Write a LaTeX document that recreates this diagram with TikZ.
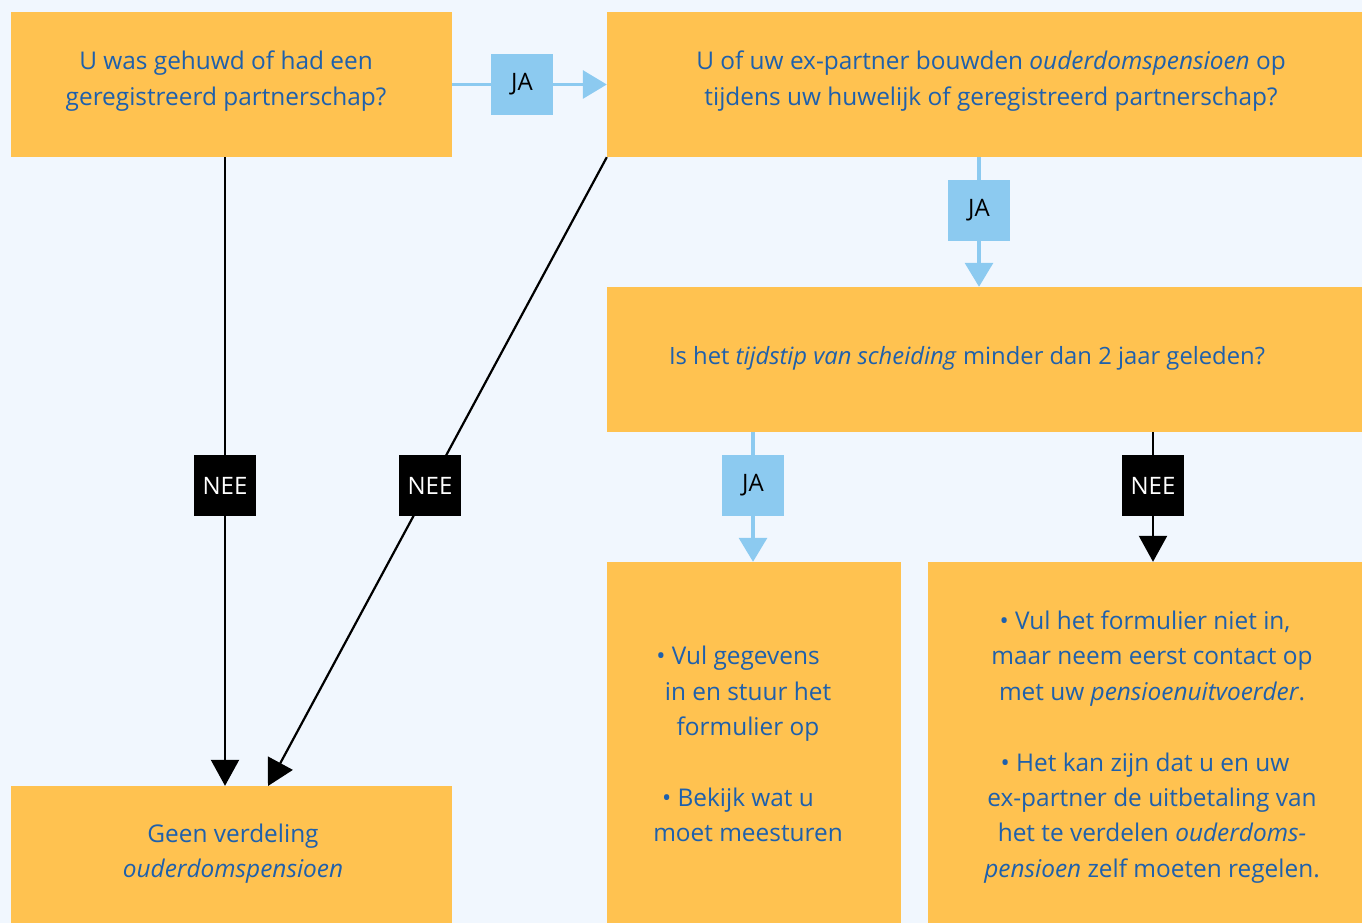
\documentclass[tikz,border=0pt]{standalone}
\usepackage{fontspec}
\setmainfont{Open Sans}
\usetikzlibrary{arrows.meta}
\definecolor{bg}{RGB}{241,247,254}
\definecolor{boxor}{RGB}{255,194,80}
\definecolor{lblue}{RGB}{140,202,240}
\definecolor{tblue}{RGB}{30,96,172}
\newcommand{\trail}[1]{\rule{#1}{0pt}}
\tikzset{
  box/.style={fill=boxor, draw=none, inner sep=0pt, anchor=center},
  txt/.style={text=tblue, align=center, inner sep=0pt, font=\fontsize{24.4}{35.4}\selectfont},
  lab/.style={minimum width=62pt, minimum height=61pt, inner sep=0pt, font=\fontsize{24}{28}\selectfont, text=black},
  jalab/.style={lab, fill=lblue},
  neelab/.style={lab, fill=black, text=white},
  jaline/.style={draw=lblue, line width=3.2pt, -{Triangle[width=28pt,length=24pt]}},
  neeline/.style={draw=black, line width=2.2pt, -{Triangle[width=28pt,length=26pt]}},
}
\begin{document}
\begin{tikzpicture}[x=1pt,y=-1pt]
\fill[bg] (0,0) rectangle (1362,923);
\useasboundingbox (0,0) rectangle (1362,923);
% boxes
\node[box, minimum width=441pt, minimum height=145pt] (A) at (231.5,84.5) {};
\node[box, minimum width=755pt, minimum height=145pt] (B) at (984.5,84.5) {};
\node[box, minimum width=755pt, minimum height=145pt] (C) at (984.5,359.5) {};
\node[box, minimum width=441pt, minimum height=137pt] (D) at (231.5,854.5) {};
\node[box, minimum width=294pt, minimum height=361pt] (E) at (754,742.5) {};
\node[box, minimum width=434pt, minimum height=361pt] (F) at (1145,742.5) {};
% texts
\node[txt] (tA) at (226,81) {U was gehuwd of had een\\geregistreerd partnerschap?};
\node[txt] (tB) at (991,81) {U of uw ex-partner bouwden \textit{ouderdomspensioen} op\\tijdens uw huwelijk of geregistreerd partnerschap?};
\node[txt, font=\fontsize{23.8}{35.4}\selectfont] (tC) at (967,358) {Is het \textit{tijdstip van scheiding} minder dan 2 jaar geleden?};
\node[txt] (tD) at (233,853.5) {Geen verdeling\\\textit{ouderdomspensioen}};
\node[txt] (tE) at (748,744) {• Vul gegevens\trail{20pt}\\in en stuur het\\formulier op\\[35.4pt]• Bekijk wat u\trail{20pt}\\moet meesturen};
\node[txt] (tF) at (1152,747) {• Vul het formulier niet in,\trail{14pt}\\maar neem eerst contact op\\met uw \textit{pensioenuitvoerder}.\\[35.4pt]• Het kan zijn dat u en uw\trail{14pt}\\ex-partner de uitbetaling van\\het te verdelen \textit{ouderdoms-}\\\textit{pensioen} zelf moeten regelen.};
% labels
\node[jalab] (L1) at (522,84.5) {JA};
\node[jalab] (L2) at (979,210) {JA};
\node[neelab] (L3) at (225,485.5) {NEE};
\node[neelab] (L4) at (430,485.5) {NEE};
\node[jalab] (L5) at (753,485.5) {JA};
\node[neelab] (L6) at (1153,485.5) {NEE};
\coordinate (Dtip) at (268,786);
% connectors
\draw[jaline] (A.east) -- (B.west);
\node[jalab] at (L1) {JA};
\draw[jaline] (L2 |- B.south) -- (L2 |- C.north);
\node[jalab] at (L2) {JA};
\draw[neeline] (L3 |- A.south) -- (L3 |- D.north);
\node[neelab] at (L3) {NEE};
\draw[neeline] (B.south west) -- (Dtip);
\node[neelab] at (L4) {NEE};
\draw[jaline] (L5 |- C.south) -- (L5 |- E.north);
\node[jalab] at (L5) {JA};
\draw[neeline] (L6 |- C.south) -- (L6 |- F.north);
\node[neelab] at (L6) {NEE};
\end{tikzpicture}
\end{document}
